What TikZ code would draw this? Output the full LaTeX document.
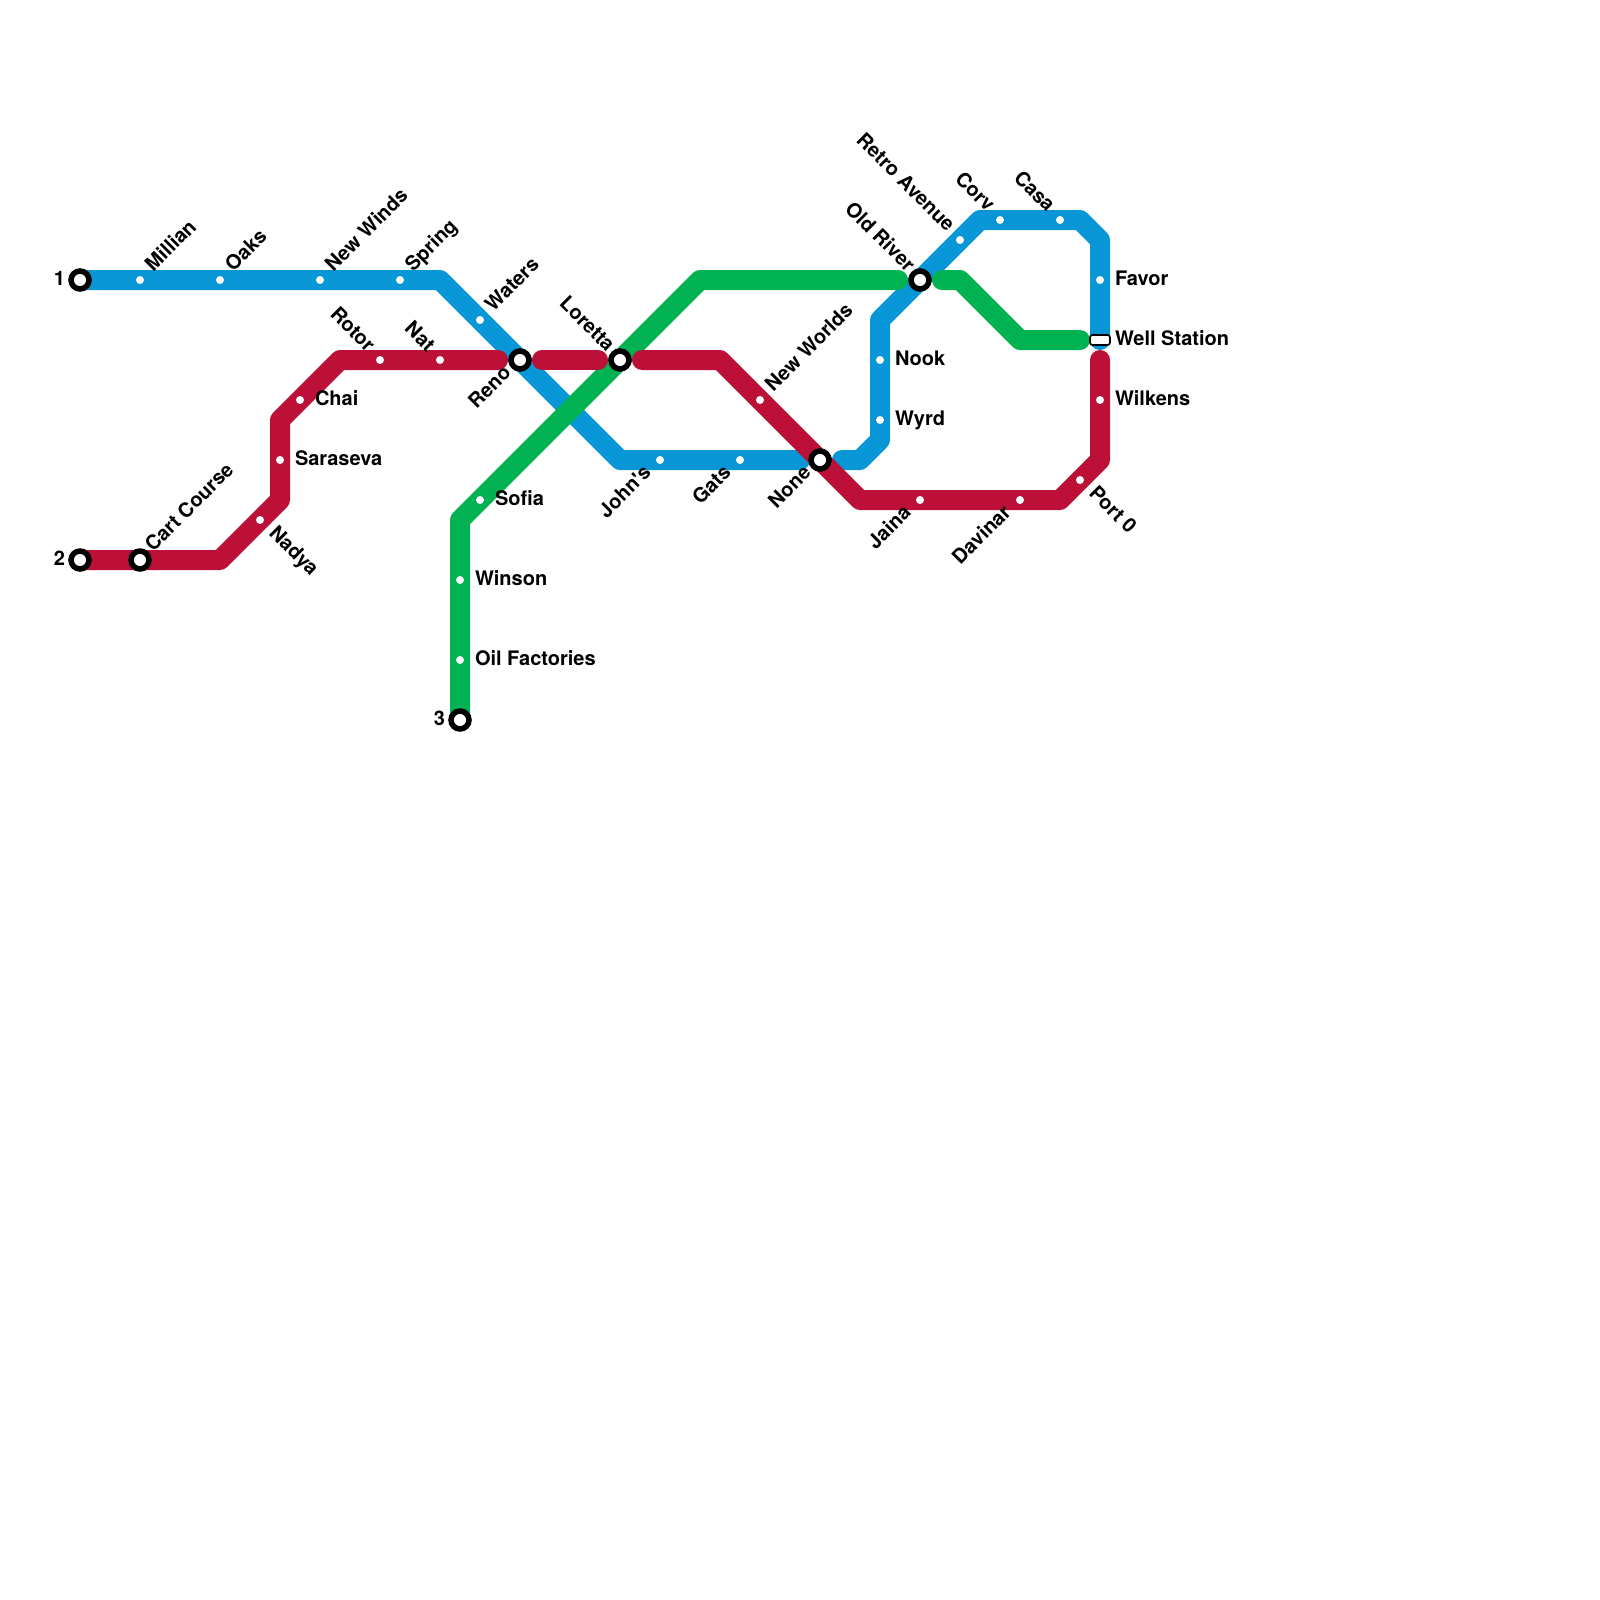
\documentclass[tikz,border=0pt]{standalone}
\usepackage{fontspec}
\setmainfont[Ligatures=TeXOff]{TeX Gyre Heros}
\definecolor{lineblue}{HTML}{0896D7}
\definecolor{linered}{HTML}{BD1038}
\definecolor{linegreen}{HTML}{00B251}
\tikzset{
  metro/.style={line width=20pt,line cap=round,line join=round},
  stop/.style={circle,fill=white,draw=none,minimum size=8pt,inner sep=0pt},
  hub/.style={circle,fill=white,draw=black,line width=5.5pt,minimum size=18pt,inner sep=0pt,outer sep=0pt},
  lab/.style={inner sep=0pt,outer sep=0pt,text=black,font=\bfseries\fontsize{20}{22}\selectfont},
  lblR/.style={lab,anchor=base west,xshift=15pt,yshift=-5pt},
  lblL/.style={lab,anchor=base east,xshift=-15pt,yshift=-5pt},
  lblUR/.style={lab,anchor=base west,xshift=13.4pt,yshift=7.5pt,rotate=45},
  lblDR/.style={lab,anchor=base west,xshift=8pt,yshift=-14.4pt,rotate=-45},
  lblUL/.style={lab,anchor=base east,xshift=-13.4pt,yshift=7.2pt,rotate=-45},
  lblLL/.style={lab,anchor=base east,xshift=-8pt,yshift=-14pt,rotate=45},
}
\begin{document}
\begin{tikzpicture}[x=1pt,y=-1pt]
\useasboundingbox[fill=white] (0,0) rectangle (1600,1600);

% way points
\coordinate (b1) at (80,280);
\coordinate (b2) at (440,280);
\coordinate (b3) at (620,460);
\coordinate (b4) at (800,460);
\coordinate (b5) at (842,460);
\coordinate (b6) at (860,460);
\coordinate (b7) at (880,440);
\coordinate (b8) at (880,320);
\coordinate (b9) at (980,220);
\coordinate (b10) at (1080,220);
\coordinate (b11) at (1100,240);
\coordinate (b12) at (1100,340);

\coordinate (g1) at (460,720);
\coordinate (g2) at (460,520);
\coordinate (g3) at (700,280);
\coordinate (g4) at (898,280);
\coordinate (g5) at (942,280);
\coordinate (g6) at (960,280);
\coordinate (g7) at (1020,340);
\coordinate (g8) at (1080,340);

\coordinate (r1) at (80,560);
\coordinate (r2) at (220,560);
\coordinate (r3) at (280,500);
\coordinate (r4) at (280,420);
\coordinate (r5) at (340,360);
\coordinate (r6) at (498,360);
\coordinate (r7) at (542,360);
\coordinate (r8) at (598,360);
\coordinate (r9) at (642,360);
\coordinate (r10) at (720,360);
\coordinate (r11) at (860,500);
\coordinate (r12) at (1060,500);
\coordinate (r13) at (1100,460);
\coordinate (r14) at (1100,360);

% lines
\draw[metro,lineblue] (b1) -- (b2) -- (b3) -- (b4);
\draw[metro,lineblue] (b5) -- (b6) -- (b7) -- (b8) -- (b9) -- (b10) -- (b11) -- (b12);
\draw[metro,linegreen] (g1) -- (g2) -- (g3) -- (g4);
\draw[metro,linegreen] (g5) -- (g6) -- (g7) -- (g8);
\draw[metro,linered] (r1) -- (r2) -- (r3) -- (r4) -- (r5) -- (r6);
\draw[metro,linered] (r7) -- (r8);
\draw[metro,linered] (r9) -- (r10) -- (r11) -- (r12) -- (r13) -- (r14);

% hubs
\node[hub] (one) at (80,280) {};
\node[hub] (two) at (80,560) {};
\node[hub] (three) at (460,720) {};
\node[hub] (cart) at (140,560) {};
\node[hub] (reno) at (520,360) {};
\node[hub] (loretta) at (620,360) {};
\node[hub] (none) at (820,460) {};
\node[hub] (oldriver) at (920,280) {};

% stops
\node[stop] (millian) at (140,280) {};
\node[stop] (oaks) at (220,280) {};
\node[stop] (newwinds) at (320,280) {};
\node[stop] (spring) at (400,280) {};
\node[stop] (waters) at (480,320) {};
\node[stop] (johns) at (660,460) {};
\node[stop] (gats) at (740,460) {};
\node[stop] (nook) at (880,360) {};
\node[stop] (wyrd) at (880,420) {};
\node[stop] (retro) at (960,240) {};
\node[stop] (corv) at (1000,220) {};
\node[stop] (casa) at (1060,220) {};
\node[stop] (favor) at (1100,280) {};
\node[stop] (nadya) at (260,520) {};
\node[stop] (saraseva) at (280,460) {};
\node[stop] (chai) at (300,400) {};
\node[stop] (rotor) at (380,360) {};
\node[stop] (nat) at (440,360) {};
\node[stop] (newworlds) at (760,400) {};
\node[stop] (jaina) at (920,500) {};
\node[stop] (davinar) at (1020,500) {};
\node[stop] (port) at (1080,480) {};
\node[stop] (wilkens) at (1100,400) {};
\node[stop] (sofia) at (480,500) {};
\node[stop] (winson) at (460,580) {};
\node[stop] (oil) at (460,660) {};
\node[draw=black,fill=white,line width=1.6pt,rounded corners=2.5pt,minimum width=20pt,minimum height=10pt,inner sep=0pt,outer sep=0pt] (well) at (1100,340) {};

% labels
\node[lblL] (l1) at (one.center) {1};
\node[lblL] (l2) at (two.center) {2};
\node[lblL] (l3) at (three.center) {3};
\node[lblUR] (lcart) at (cart.center) {Cart Course};
\node[lblLL] (lreno) at (reno.center) {Reno};
\node[lblUL] (lloretta) at (loretta.center) {Loretta};
\node[lblLL] (lnone) at (none.center) {None};
\node[lblUL] (loldriver) at (oldriver.center) {Old River};
\node[lblUR] (lmillian) at (millian.center) {Millian};
\node[lblUR] (loaks) at (oaks.center) {Oaks};
\node[lblUR] (lnewwinds) at (newwinds.center) {New Winds};
\node[lblUR] (lspring) at (spring.center) {Spring};
\node[lblUR] (lwaters) at (waters.center) {Waters};
\node[lblLL] (ljohns) at (johns.center) {John's};
\node[lblLL] (lgats) at (gats.center) {Gats};
\node[lblR] (lnook) at (nook.center) {Nook};
\node[lblR] (lwyrd) at (wyrd.center) {Wyrd};
\node[lblUL] (lretro) at (retro.center) {Retro Avenue};
\node[lblUL] (lcorv) at (corv.center) {Corv};
\node[lblUL] (lcasa) at (casa.center) {Casa};
\node[lblR] (lfavor) at (favor.center) {Favor};
\node[lblR] (lwell) at (well.center) {Well Station};
\node[lblDR] (lnadya) at (nadya.center) {Nadya};
\node[lblR] (lsaraseva) at (saraseva.center) {Saraseva};
\node[lblR] (lchai) at (chai.center) {Chai};
\node[lblUL] (lrotor) at (rotor.center) {Rotor};
\node[lblUL] (lnat) at (nat.center) {Nat};
\node[lblUR] (lnewworlds) at (newworlds.center) {New Worlds};
\node[lblLL] (ljaina) at (jaina.center) {Jaina};
\node[lblLL] (ldavinar) at (davinar.center) {Davinar};
\node[lblDR] (lport) at (port.center) {Port 0};
\node[lblR] (lwilkens) at (wilkens.center) {Wilkens};
\node[lblR] (lsofia) at (sofia.center) {Sofia};
\node[lblR] (lwinson) at (winson.center) {Winson};
\node[lblR] (loil) at (oil.center) {Oil Factories};
\end{tikzpicture}
\end{document}
